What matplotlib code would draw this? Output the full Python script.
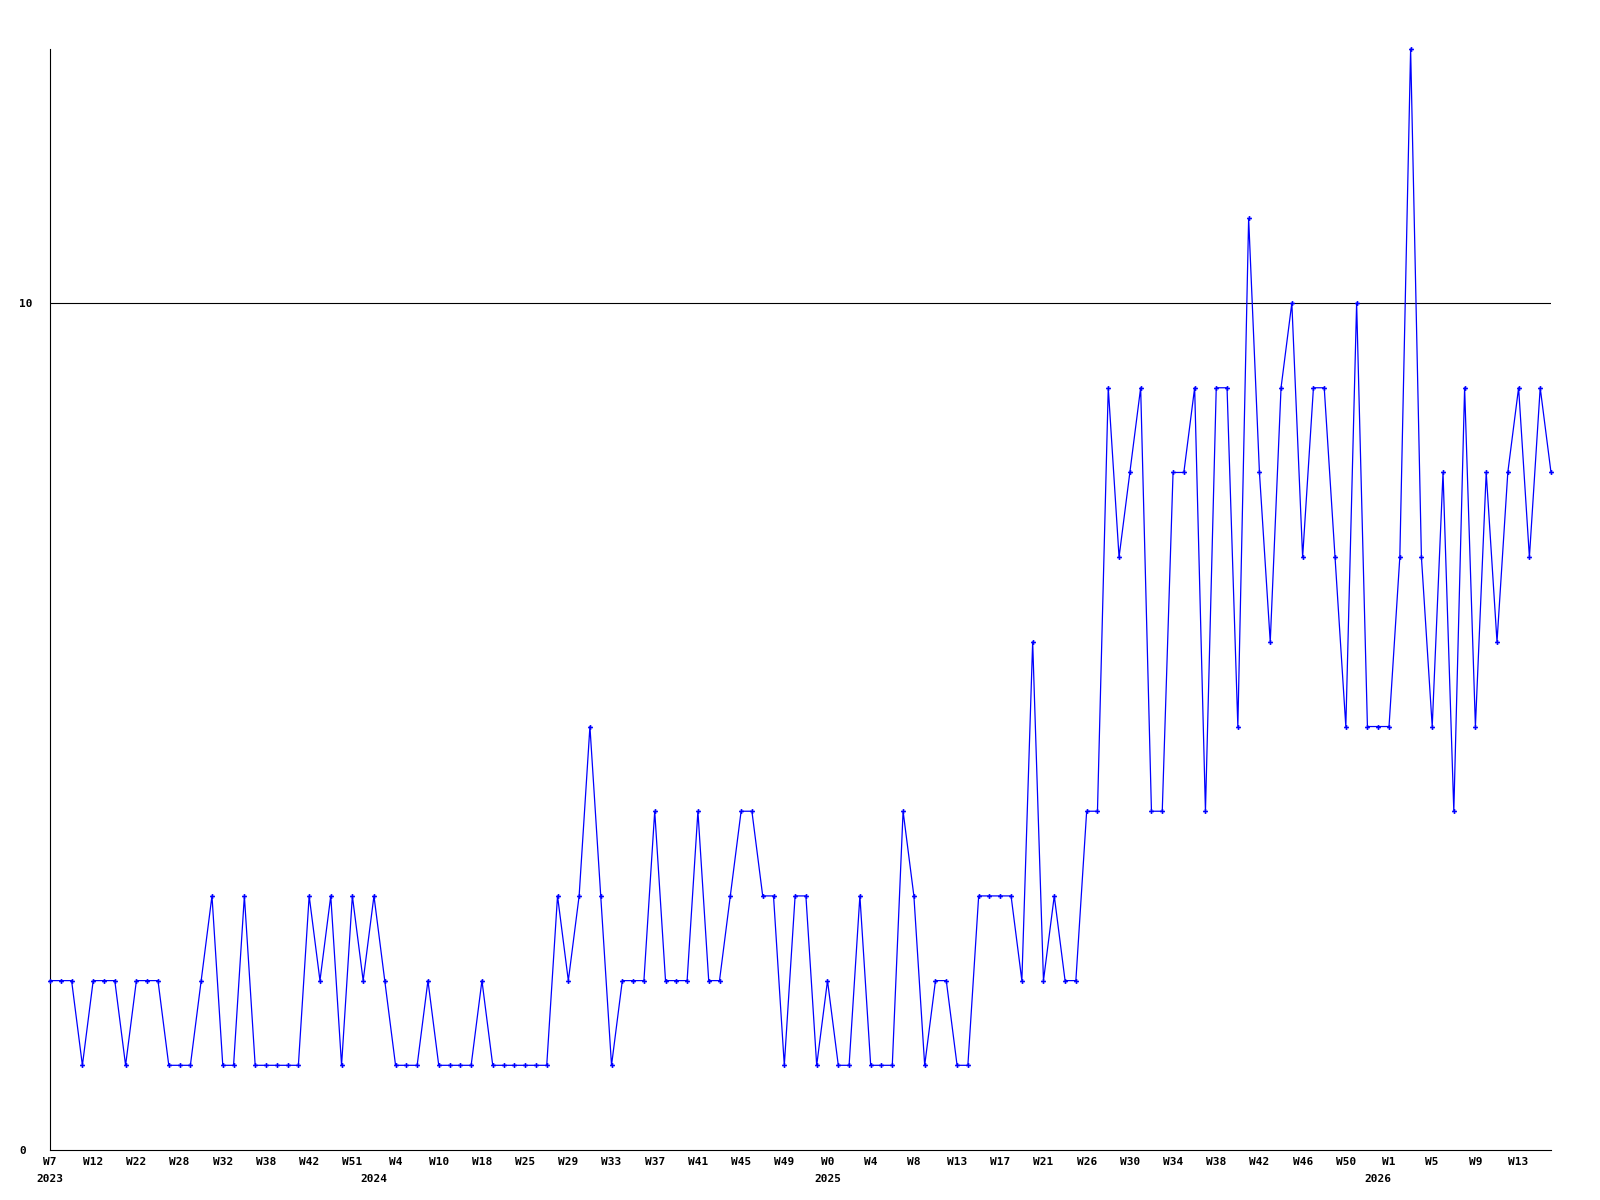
import matplotlib
matplotlib.use('Agg')
import matplotlib.pyplot as plt
import numpy as np

# weekly counts (one point per week shown)
counts = [2, 2, 2, 1, 2, 2, 2, 1, 2, 2, 2, 1, 1, 1, 2, 3, 1, 1, 3, 1,
          1, 1, 1, 1, 3, 2, 3, 1, 3, 2, 3, 2, 1, 1, 1, 2, 1, 1, 1, 1,
          2, 1, 1, 1, 1, 1, 1, 3, 2, 3, 5, 3, 1, 2, 2, 2, 4, 2, 2, 2,
          4, 2, 2, 3, 4, 4, 3, 3, 1, 3, 3, 1, 2, 1, 1, 3, 1, 1, 1, 4,
          3, 1, 2, 2, 1, 1, 3, 3, 3, 3, 2, 6, 2, 3, 2, 2, 4, 4, 9, 7,
          8, 9, 4, 4, 8, 8, 9, 4, 9, 9, 5, 11, 8, 6, 9, 10, 7, 9, 9, 7,
          5, 10, 5, 5, 5, 7, 13, 7, 5, 8, 4, 9, 5, 8, 6, 8, 9, 7, 9, 8]

# every 4th week gets a label
week_labels = ['W7', 'W12', 'W22', 'W28', 'W32', 'W38', 'W42', 'W51', 'W4',
               'W10', 'W18', 'W25', 'W29', 'W33', 'W37', 'W41', 'W45', 'W49',
               'W0', 'W4', 'W8', 'W13', 'W17', 'W21', 'W26', 'W30', 'W34',
               'W38', 'W42', 'W46', 'W50', 'W1', 'W5', 'W9', 'W13']
years = ['2023', '2024', '2025', '2026']
year_pos = [0, 30, 72, 123]

x = np.arange(len(counts))
font = dict(family='DejaVu Sans Mono', fontweight='bold', fontsize=8)

fig = plt.figure(figsize=(16, 12), dpi=100)
ax = fig.add_axes([50 / 1600, 50 / 1200, 1501 / 1600, 1101 / 1200])

ax.plot(x, counts, color='#0000ff', linewidth=0.9, marker='P',
        markersize=3.5, markeredgewidth=0, clip_on=False, zorder=3)
ax.axhline(10, color='black', linewidth=0.8, zorder=2)

ax.set_xlim(0, len(counts) - 1)
ax.set_ylim(0, 13)

ax.spines['top'].set_visible(False)
ax.spines['right'].set_visible(False)
ax.spines['left'].set_linewidth(0.8)
ax.spines['bottom'].set_linewidth(0.8)

ax.set_yticks([0, 10])
ax.set_yticklabels(['0', '10'], **font)
for lab in ax.get_yticklabels():
    lab.set_horizontalalignment('left')
ax.tick_params(axis='y', length=0, pad=22)

ax.set_xticks(x[::4])
ax.set_xticklabels(week_labels, **font)
ax.tick_params(axis='x', length=0, pad=5)

for yr, pos in zip(years, year_pos):
    ax.text(pos, -0.026, yr, transform=ax.get_xaxis_transform(),
            ha='center', va='center', **font)

fig.savefig('out.png', dpi=100, facecolor='white')
